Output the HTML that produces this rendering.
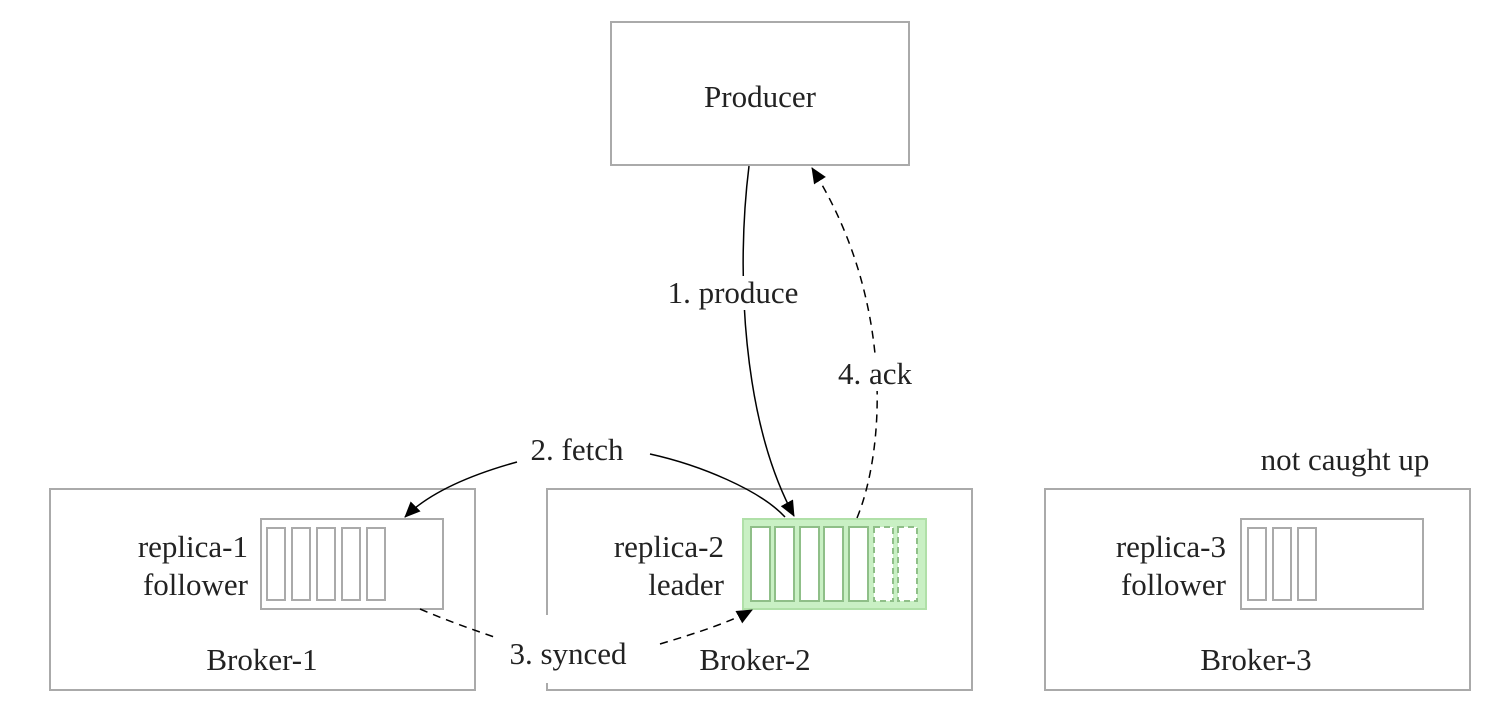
<!DOCTYPE html>
<html><head><meta charset="utf-8"><style>
html,body{margin:0;padding:0;background:#fff;}
svg{display:block;}
text{font-family:"Liberation Serif",serif;font-size:31px;fill:#222;}
</style></head><body>
<svg width="1492" height="716" viewBox="0 0 1492 716" xmlns="http://www.w3.org/2000/svg">
<defs>
<marker id="ah2" markerWidth="16" markerHeight="14" refX="15" refY="7" orient="auto" markerUnits="userSpaceOnUse">
<path d="M0,0 L16,7 L0,14 z" fill="#000"/></marker>
</defs>
<g fill="none" stroke="#aaa" stroke-width="2">
<rect x="611" y="22" width="298" height="143"/>
<rect x="50" y="489" width="425" height="201"/>
<rect x="547" y="489" width="425" height="201"/>
<rect x="1045" y="489" width="425" height="201"/>
</g>
<rect x="543" y="615" width="8" height="68" fill="#fff"/>
<g fill="none" stroke="#aaa" stroke-width="2">
<rect x="261" y="519" width="182" height="90"/>
<rect x="267" y="528" width="18" height="72"/>
<rect x="292" y="528" width="18" height="72"/>
<rect x="317" y="528" width="18" height="72"/>
<rect x="342" y="528" width="18" height="72"/>
<rect x="367" y="528" width="18" height="72"/>
<rect x="1241" y="519" width="182" height="90"/>
<rect x="1248" y="528" width="18" height="72"/>
<rect x="1273" y="528" width="18" height="72"/>
<rect x="1298" y="528" width="18" height="72"/>
</g>
<rect x="743" y="519" width="183" height="90" fill="#c9f0c4" stroke="#b0e0a8" stroke-width="2"/>
<g fill="#fff" stroke="#8fbf88" stroke-width="2">
<rect x="751" y="527" width="19" height="74"/>
<rect x="775" y="527" width="19" height="74"/>
<rect x="800" y="527" width="19" height="74"/>
<rect x="824" y="527" width="19" height="74"/>
<rect x="849" y="527" width="19" height="74"/>
<rect x="874" y="527" width="19" height="74" stroke-dasharray="6,4"/>
<rect x="898" y="527" width="19" height="74" stroke-dasharray="6,4"/>
</g>
<g fill="none" stroke="#000" stroke-width="1.5">
<path d="M749,166 C736,270 742,420 794,516" marker-end="url(#ah2)"/>
<path d="M857,518 C885,450 895,300 812,168" stroke-dasharray="8,6" marker-end="url(#ah2)"/>
<path d="M517,462 C470,475 430,492 405,517" marker-end="url(#ah2)"/>
<path d="M650,454 C700,465 760,490 785,517"/>
<path d="M420,609 C450,622 480,632 497,638" stroke-dasharray="8,6"/>
<path d="M660,644 C700,632 730,622 752,610" stroke-dasharray="8,6" marker-end="url(#ah2)"/>
</g>
<text x="760" y="107" text-anchor="middle">Producer</text>
<rect x="662" y="276" width="144" height="34" fill="#fff"/>
<text x="733" y="303" text-anchor="middle">1. produce</text>
<rect x="833" y="357" width="84" height="34" fill="#fff"/>
<text x="875" y="384" text-anchor="middle">4. ack</text>
<text x="577" y="460" text-anchor="middle">2. fetch</text>
<text x="568" y="664" text-anchor="middle">3. synced</text>
<text x="1345" y="470" text-anchor="middle">not caught up</text>
<text x="248" y="557" text-anchor="end">replica-1</text>
<text x="248" y="595" text-anchor="end">follower</text>
<text x="724" y="557" text-anchor="end">replica-2</text>
<text x="724" y="595" text-anchor="end">leader</text>
<text x="1226" y="557" text-anchor="end">replica-3</text>
<text x="1226" y="595" text-anchor="end">follower</text>
<text x="262" y="670" text-anchor="middle">Broker-1</text>
<text x="755" y="670" text-anchor="middle">Broker-2</text>
<text x="1256" y="670" text-anchor="middle">Broker-3</text>
</svg>
</body></html>
